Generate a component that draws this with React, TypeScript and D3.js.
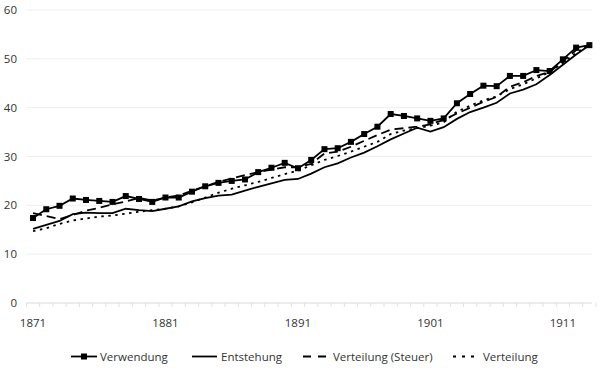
import React from "react";
import * as d3 from "d3";

const years: number[] = d3.range(1871, 1914);

const verwendung: number[] = [
  17.4, 19.2, 19.9, 21.4, 21.1, 20.9, 20.7, 21.9, 21.3, 20.7,
  21.6, 21.6, 22.8, 23.9, 24.6, 25.0, 25.3, 26.8, 27.7, 28.7,
  27.6, 29.3, 31.5, 31.7, 33.0, 34.6, 36.1, 38.7, 38.3, 37.8,
  37.3, 37.8, 40.9, 42.8, 44.5, 44.4, 46.5, 46.5, 47.7, 47.5,
  49.9, 52.3, 52.8,
];

const entstehung: number[] = [
  15.2, 16.0, 16.8, 18.2, 18.5, 18.4, 18.4, 19.3, 19.0, 18.8,
  19.3, 19.8, 20.8, 21.5, 22.0, 22.2, 23.0, 23.8, 24.5, 25.2,
  25.4, 26.5, 27.8, 28.6, 29.8, 30.8, 32.1, 33.5, 34.7, 35.9,
  35.1, 36.0, 37.7, 39.1, 40.0, 41.0, 42.9, 43.7, 44.8, 46.7,
  48.8, 50.9, 52.8,
];

const verteilungSteuer: number[] = [
  18.4, 17.8, 17.2, 18.0, 18.9, 19.5, 20.2, 20.8, 21.5, 21.0,
  21.6, 22.0, 23.0, 23.9, 24.8, 25.5, 26.2, 26.8, 27.3, 27.8,
  27.8, 28.5, 30.6, 31.0, 32.0, 33.2, 34.4, 35.5, 35.8, 36.1,
  36.6, 37.5, 38.8, 40.0, 41.2, 42.2, 44.3, 45.2, 46.5, 47.3,
  49.5, 51.8, 52.8,
];

const verteilung: number[] = [
  14.7, 15.3, 16.2, 16.9, 17.3, 17.7, 17.9, 18.3, 18.7, 19.0,
  19.3, 19.8, 20.6, 21.6, 22.6, 23.4, 24.1, 24.8, 25.6, 26.4,
  27.1, 28.2, 29.3, 30.1, 31.0, 32.0, 33.0, 34.6, 35.3, 35.8,
  36.3, 37.0, 39.2, 40.4, 41.5, 42.3, 43.8, 44.8, 46.0, 47.3,
  49.2, 51.2, 52.8,
];

const yTicks: number[] = [0, 10, 20, 30, 40, 50, 60];
const xTickLabels: number[] = [1871, 1881, 1891, 1901, 1911];
const seriesNames: string[] = ["Verwendung", "Entstehung", "Verteilung (Steuer)", "Verteilung"];

const FONT = "'Open Sans', 'Noto Sans', sans-serif";

export default function App() {
  const W = 600;
  const H = 375;
  const x = d3.scaleLinear().domain([1870.5, 1913.5]).range([26.4, 596]);
  const y = d3.scaleLinear().domain([0, 60]).range([303, 10]);

  const mk = (vals: number[]) =>
    d3
      .line<number>()
      .x((_, i) => x(years[i]))
      .y((v) => y(v))(vals) || "";

  const boundaries = d3.range(1870.5, 1914.5, 1);

  const legendY = 356.5;
  const legend = [
    { name: seriesNames[0], x1: 71, x2: 97, tx: 100, type: "marker" },
    { name: seriesNames[1], x1: 192, x2: 217, tx: 221, type: "solid" },
    { name: seriesNames[2], x1: 303, x2: 330, tx: 333, type: "dash" },
    { name: seriesNames[3], x1: 453, x2: 476, tx: 483, type: "dot" },
  ];

  return (
    <svg
      width={W}
      height={H}
      style={{ position: "absolute", left: 0, top: 0, background: "#fff" }}
      fontFamily={FONT}
    >
      <rect width={W} height={H} fill="#fff" />
      {yTicks.map((t) => (
        <line
          key={"g" + t}
          x1={26.4}
          x2={592}
          y1={y(t)}
          y2={y(t)}
          stroke={t === 0 ? "#d9d9d9" : "#efefef"}
          strokeWidth={1}
        />
      ))}
      {yTicks.map((t) => (
        <text
          key={"yl" + t}
          x={17}
          y={y(t)}
          dy="0.35em"
          textAnchor="end"
          fontSize={11.5}
          fill="#333"
        >
          {t}
        </text>
      ))}
      {boundaries.map((b) => (
        <line
          key={"xt" + b}
          x1={x(b)}
          x2={x(b)}
          y1={303}
          y2={307}
          stroke="#e0e0e0"
          strokeWidth={1}
        />
      ))}
      {xTickLabels.map((t) => (
        <text
          key={"xl" + t}
          x={x(t)}
          y={323}
          dy="0.35em"
          textAnchor="middle"
          fontSize={11.5}
          fill="#333"
        >
          {t}
        </text>
      ))}
      <path d={mk(verteilung)} fill="none" stroke="#000" strokeWidth={1.8} strokeDasharray="2.5,4.5" />
      <path d={mk(verteilungSteuer)} fill="none" stroke="#000" strokeWidth={1.8} strokeDasharray="9,5" />
      <path d={mk(entstehung)} fill="none" stroke="#000" strokeWidth={1.8} />
      <path d={mk(verwendung)} fill="none" stroke="#000" strokeWidth={1.8} />
      {verwendung.map((v, i) => (
        <rect
          key={"m" + i}
          x={x(years[i]) - 3}
          y={y(v) - 3}
          width={6}
          height={6}
          fill="#000"
        />
      ))}
      {legend.map((l) => (
        <g key={l.name}>
          {l.type === "marker" && (
            <>
              <line x1={l.x1} x2={l.x2} y1={legendY} y2={legendY} stroke="#000" strokeWidth={1.8} />
              <rect x={(l.x1 + l.x2) / 2 - 3} y={legendY - 3} width={6} height={6} fill="#000" />
            </>
          )}
          {l.type === "solid" && (
            <line x1={l.x1} x2={l.x2} y1={legendY} y2={legendY} stroke="#000" strokeWidth={1.8} />
          )}
          {l.type === "dash" && (
            <line x1={l.x1} x2={l.x2} y1={legendY} y2={legendY} stroke="#000" strokeWidth={1.8} strokeDasharray="8,7" />
          )}
          {l.type === "dot" && (
            <line x1={l.x1} x2={l.x2} y1={legendY} y2={legendY} stroke="#000" strokeWidth={1.8} strokeDasharray="3,6" />
          )}
          <text x={l.tx} y={legendY} dy="0.35em" fontSize={11.5} fill="#333">
            {l.name}
          </text>
        </g>
      ))}
    </svg>
  );
}
